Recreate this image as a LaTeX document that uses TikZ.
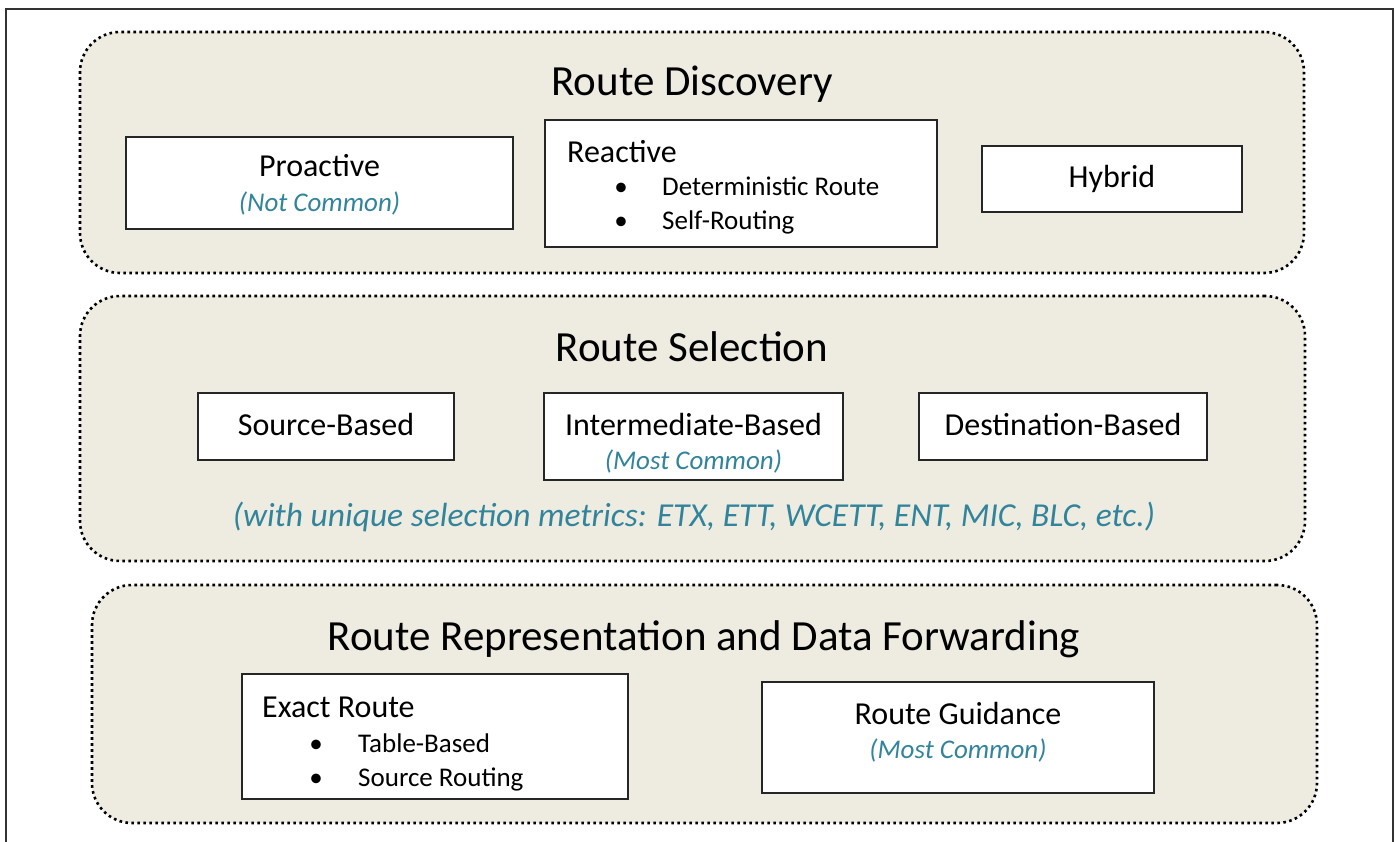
\documentclass[tikz,border=0pt]{standalone}
\usepackage{fontspec}
\setmainfont{Carlito}
\definecolor{panelfill}{HTML}{EEECE1}
\definecolor{noteteal}{HTML}{31849B}
\tikzset{
  frameline/.style={draw=black!80, line width=1.5pt},
  panel/.style={rectangle, rounded corners=40pt, fill=panelfill, draw=black,
    line width=2.6pt, dash pattern=on 2.6pt off 3.4pt, inner sep=0pt},
  itembox/.style={rectangle, fill=white, draw=black!85, line width=1.3pt, inner sep=0pt},
  title/.style={font=\fontsize{43}{51}\selectfont, anchor=base, inner sep=0pt},
  head/.style={font=\fontsize{32}{38}\selectfont, anchor=base, inner sep=0pt},
  note/.style={font=\fontsize{27}{32}\selectfont\itshape, text=noteteal, anchor=base, inner sep=0pt},
  item/.style={font=\fontsize{27}{32}\selectfont, anchor=base west, inner sep=0pt},
  bul/.style={font=\fontsize{27}{32}\selectfont, anchor=base, inner sep=0pt},
}
\begin{document}
\begin{tikzpicture}[x=1pt,y=-1pt]
\useasboundingbox (0,0) rectangle (1395,842);
% outer frame, open at the bottom
\coordinate (fa) at (6,842);
\coordinate (fb) at (6,9);
\coordinate (fc) at (1393,9);
\coordinate (fd) at (1393,842);
\draw[frameline] (fa) -- (fb) -- (fc) -- (fd);

% three layers
\node[panel, minimum width=1224pt, minimum height=241pt] (disc) at (692,152.5) {};
\node[panel, minimum width=1225pt, minimum height=265pt] (sel) at (692.5,428.5) {};
\node[panel, minimum width=1225pt, minimum height=238pt] (fwd) at (704.5,704) {};

% layer 1: route discovery
\node[title] (discT) at (692,96) {Route Discovery};
\node[itembox, minimum width=387pt, minimum height=92pt] (pro) at (319.5,183) {};
\node[head] (proT) at (319.5,177) {Proactive};
\node[note] (proN) at (319.5,212) {(Not Common)};
\node[itembox, minimum width=392pt, minimum height=127pt] (rea) at (741,183.5) {};
\node[head, anchor=base west] (reaT) at (567,163) {Reactive};
\node[bul] (reaB1) at (621,196) {•};
\node[item] (reaI1) at (662,196) {Deterministic Route};
\node[bul] (reaB2) at (621,230) {•};
\node[item] (reaI2) at (662,230) {Self-Routing};
\node[itembox, minimum width=260pt, minimum height=66pt] (hyb) at (1112,179) {};
\node[head] (hybT) at (1112,188) {Hybrid};

% layer 2: route selection
\node[title] (selT) at (692,362) {Route Selection};
\node[itembox, minimum width=256pt, minimum height=67pt] (src) at (326,426.5) {};
\node[head] (srcT) at (326,435) {Source-Based};
\node[itembox, minimum width=299pt, minimum height=87pt] (mid) at (693.5,436.5) {};
\node[head] (midT) at (693.5,435) {Intermediate-Based};
\node[note] (midN) at (693.5,469) {(Most Common)};
\node[itembox, minimum width=288pt, minimum height=67pt] (dst) at (1063,426.5) {};
\node[head] (dstT) at (1063,435) {Destination-Based};
\node[note, font=\fontsize{33.5}{40}\selectfont\itshape] (metr) at (694,526)
  {(with unique selection metrics: ETX, ETT, WCETT, ENT, MIC, BLC, etc.)};

% layer 3: route representation and data forwarding
\node[title] (fwdT) at (704,650) {Route Representation and Data Forwarding};
\node[itembox, minimum width=386pt, minimum height=125pt] (ex) at (435,736.5) {};
\node[head, anchor=base west] (exT) at (262,717) {Exact Route};
\node[bul] (exB1) at (316,752) {•};
\node[item] (exI1) at (358,752) {Table-Based};
\node[bul] (exB2) at (316,786) {•};
\node[item] (exI2) at (358,786) {Source Routing};
\node[itembox, minimum width=392pt, minimum height=111pt] (gd) at (958,737.5) {};
\node[head] (gdT) at (958,724) {Route Guidance};
\node[note] (gdN) at (958,758) {(Most Common)};
\end{tikzpicture}
\end{document}
